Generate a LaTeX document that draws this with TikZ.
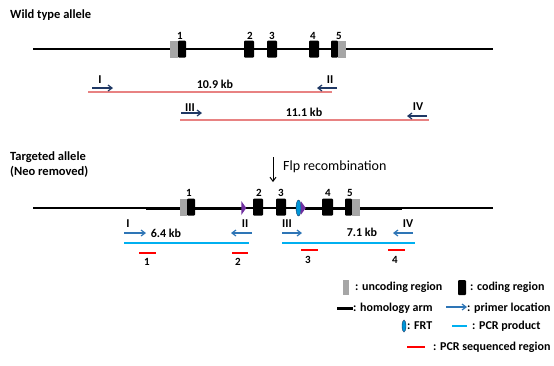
\documentclass[tikz,border=0pt]{standalone}
\usepackage{fontspec}
\setmainfont{Carlito}
\usetikzlibrary{arrows.meta, positioning, shapes.geometric}
\definecolor{exongrey}{RGB}{166,166,166}
\definecolor{navyblue}{RGB}{31,56,100}
\definecolor{pinkred}{RGB}{232,130,130}
\definecolor{primerblue}{RGB}{46,117,182}
\definecolor{pcrblue}{RGB}{0,176,240}
\definecolor{loxpurple}{RGB}{112,48,160}
\definecolor{frtblue}{RGB}{0,150,215}
\tikzset{
    coding/.style={rectangle, fill=black, minimum width=10pt, minimum height=17pt, inner sep=0pt, rounded corners=1pt},
    uncoding/.style={rectangle, fill=exongrey, minimum width=8pt, minimum height=17pt, inner sep=0pt},
    exnum/.style={font=\bfseries\fontsize{11}{12}\selectfont, inner sep=0pt},
    txt/.style={font=\bfseries\fontsize{12}{14}\selectfont, inner sep=0pt},
    title/.style={font=\bfseries\fontsize{12.5}{15}\selectfont, inner sep=0pt, anchor=west, align=left},
    dna/.style={line width=1.2pt},
    arm/.style={line width=3pt},
    wtprimer/.style={navyblue, line width=1.2pt, -{Straight Barb[length=4pt, width=6pt]}},
    tgprimer/.style={primerblue, line width=1.2pt, -{Straight Barb[length=4pt, width=6pt]}},
    wtpcr/.style={pinkred, line width=1.2pt},
    tgpcr/.style={pcrblue, line width=1.2pt},
    seqline/.style={red, line width=1.2pt},
    frt/.style={ellipse, fill=frtblue, draw=navyblue, line width=0.4pt, minimum width=5pt, minimum height=16pt, inner sep=0pt},
    loxp/.style={isosceles triangle, fill=loxpurple, minimum height=5pt, minimum width=14pt, isosceles triangle stretches, inner sep=0pt}
}
\begin{document}
\begin{tikzpicture}[x=1pt, y=-1pt]
    \useasboundingbox (0,0) rectangle (554,365);
    % Wild type allele
    \node (wttitle) [title] at (10,15) {Wild type allele};
    \coordinate (wtL) at (33,49);
    \coordinate (wtR) at (493,49);
    \draw[dna] (wtL) -- (wtR);
    \node (wt1u) [uncoding] at (174,49) {};
    \node (wt1c) [coding, minimum width=8pt] at (182,49) {};
    \node (wt2) [coding] at (249,49) {};
    \node (wt3) [coding] at (272,49) {};
    \node (wt4) [coding] at (314,49) {};
    \node (wt5c) [coding, minimum width=7pt] at (334.5,49) {};
    \node (wt5u) [uncoding] at (342,49) {};
    \node (wtn1) [exnum] at (180,36) {1};
    \node (wtn2) [exnum] at (250,36) {2};
    \node (wtn3) [exnum] at (272,36) {3};
    \node (wtn4) [exnum] at (313,36) {4};
    \node (wtn5) [exnum] at (339,36) {5};

    % Wild type primers and products
    \coordinate (wtIa) at (92,88);
    \coordinate (wtIb) at (113,88);
    \coordinate (wtIIa) at (337,88);
    \coordinate (wtIIb) at (317,88);
    \coordinate (wtIIIa) at (181,113);
    \coordinate (wtIIIb) at (202,113);
    \coordinate (wtIVa) at (427,116);
    \coordinate (wtIVb) at (407,116);
    \coordinate (wtp1a) at (88,92);
    \coordinate (wtp1b) at (332,92);
    \coordinate (wtp2a) at (180,120);
    \coordinate (wtp2b) at (429,120);
    \draw[wtpcr] (wtp1a) -- (wtp1b);
    \draw[wtpcr] (wtp2a) -- (wtp2b);
    \draw[wtprimer] (wtIa) -- (wtIb);
    \draw[wtprimer] (wtIIa) -- (wtIIb);
    \draw[wtprimer] (wtIIIa) -- (wtIIIb);
    \draw[wtprimer] (wtIVa) -- (wtIVb);
    \node (wtpI) [txt] at (100,80) {I};
    \node (wtpII) [txt] at (330,80) {II};
    \node (wtpIII) [txt] at (190,108) {III};
    \node (wtpIV) [txt] at (418,107) {IV};
    \node (wtkb1) [txt] at (215,84) {10.9 kb};
    \node (wtkb2) [txt] at (304,112) {11.1 kb};

    % Targeted allele
    \node (tgtitle) [title] at (10,165) {Targeted allele\\(Neo removed)};
    \coordinate (flpTop) at (273,157);
    \coordinate (flpBot) at (273,182);
    \draw[line width=1pt, -{Straight Barb[length=4pt, width=6pt]}] (flpTop) -- (flpBot);
    \node (flp) [font=\fontsize{14}{16}\selectfont, anchor=west, inner sep=0pt] at (283,167) {Flp recombination};
    \coordinate (tgL) at (33,208);
    \coordinate (tgR) at (493,208);
    \coordinate (armLa) at (146,208);
    \coordinate (armLb) at (242,208);
    \coordinate (armRa) at (305,208);
    \coordinate (armRb) at (402,208);
    \draw[dna] (tgL) -- (tgR);
    \draw[arm] (armLa) -- (armLb);
    \draw[arm] (armRa) -- (armRb);
    \node (tg1u) [uncoding, minimum width=7pt] at (183.5,207) {};
    \node (tg1c) [coding, minimum width=8pt] at (191,207) {};
    \node (lox1) [loxp] at (243.5,208) {};
    \node (tg2) [coding] at (258,207) {};
    \node (tg3) [coding] at (281,207) {};
    \node (frt1) [frt] at (298.5,208) {};
    \node (lox2) [loxp] at (303,208) {};
    \node (tg4) [coding, minimum width=11pt] at (327.5,207) {};
    \node (tg5c) [coding, minimum width=7pt] at (348.5,207) {};
    \node (tg5u) [uncoding] at (356,207) {};
    \node (tgn1) [exnum] at (189,193) {1};
    \node (tgn2) [exnum] at (259,193) {2};
    \node (tgn3) [exnum] at (281,193) {3};
    \node (tgn4) [exnum] at (328,193) {4};
    \node (tgn5) [exnum] at (350,193) {5};

    % Targeted primers, products and sequenced regions
    \coordinate (tgIa) at (124,233);
    \coordinate (tgIb) at (146,233);
    \coordinate (tgIIa) at (252,233);
    \coordinate (tgIIb) at (231,233);
    \coordinate (tgIIIa) at (282,233);
    \coordinate (tgIIIb) at (302,233);
    \coordinate (tgIVa) at (413,233);
    \coordinate (tgIVb) at (393,233);
    \coordinate (tgp1a) at (124,243);
    \coordinate (tgp1b) at (249,243);
    \coordinate (tgp2a) at (282,243);
    \coordinate (tgp2b) at (415,243);
    \draw[tgpcr] (tgp1a) -- (tgp1b);
    \draw[tgpcr] (tgp2a) -- (tgp2b);
    \draw[tgprimer] (tgIa) -- (tgIb);
    \draw[tgprimer] (tgIIa) -- (tgIIb);
    \draw[tgprimer] (tgIIIa) -- (tgIIIb);
    \draw[tgprimer] (tgIVa) -- (tgIVb);
    \node (tgpI) [txt] at (128,224) {I};
    \node (tgpII) [txt] at (245,224) {II};
    \node (tgpIII) [txt] at (287,224) {III};
    \node (tgpIV) [txt] at (408,224) {IV};
    \node (tgkb1) [txt] at (166,233) {6.4 kb};
    \node (tgkb2) [txt] at (362,232) {7.1 kb};
    \coordinate (sq1a) at (139,253);
    \coordinate (sq1b) at (156,253);
    \coordinate (sq2a) at (232,253);
    \coordinate (sq2b) at (248,253);
    \coordinate (sq3a) at (301,250);
    \coordinate (sq3b) at (318,250);
    \coordinate (sq4a) at (388,250);
    \coordinate (sq4b) at (405,250);
    \draw[seqline] (sq1a) -- (sq1b);
    \draw[seqline] (sq2a) -- (sq2b);
    \draw[seqline] (sq3a) -- (sq3b);
    \draw[seqline] (sq4a) -- (sq4b);
    \node (sqn1) [exnum] at (147,262) {1};
    \node (sqn2) [exnum] at (238,262) {2};
    \node (sqn3) [exnum] at (308,260) {3};
    \node (sqn4) [exnum] at (395,260) {4};

    % Legend
    \node (lgU) [uncoding, minimum width=6pt, minimum height=15pt] at (346,287.5) {};
    \node (lgUt) [txt, anchor=west] at (355,287) {: uncoding region};
    \node (lgC) [coding, minimum width=8pt, minimum height=15pt] at (462,287.5) {};
    \node (lgCt) [txt, anchor=west] at (470,287) {: coding region};
    \coordinate (lgAa) at (337,308);
    \coordinate (lgAb) at (353,308);
    \draw[arm] (lgAa) -- (lgAb);
    \node (lgAt) [txt, anchor=west] at (353,308) {: homology arm};
    \coordinate (lgPa) at (446,307);
    \coordinate (lgPb) at (467,307);
    \draw[tgprimer] (lgPa) -- (lgPb);
    \node (lgPt) [txt, anchor=west] at (467,308) {: primer location};
    \node (lgF) [frt, minimum height=12pt, minimum width=4pt] at (404,326) {};
    \node (lgFt) [txt, anchor=west] at (407,326) {: FRT};
    \coordinate (lgBa) at (452,326);
    \coordinate (lgBb) at (467,326);
    \draw[tgpcr] (lgBa) -- (lgBb);
    \node (lgBt) [txt, anchor=west] at (472,326) {: PCR product};
    \coordinate (lgRa) at (407,347);
    \coordinate (lgRb) at (425,347);
    \draw[seqline] (lgRa) -- (lgRb);
    \node (lgRt) [txt, anchor=west] at (433,347) {: PCR sequenced region};
\end{tikzpicture}
\end{document}
